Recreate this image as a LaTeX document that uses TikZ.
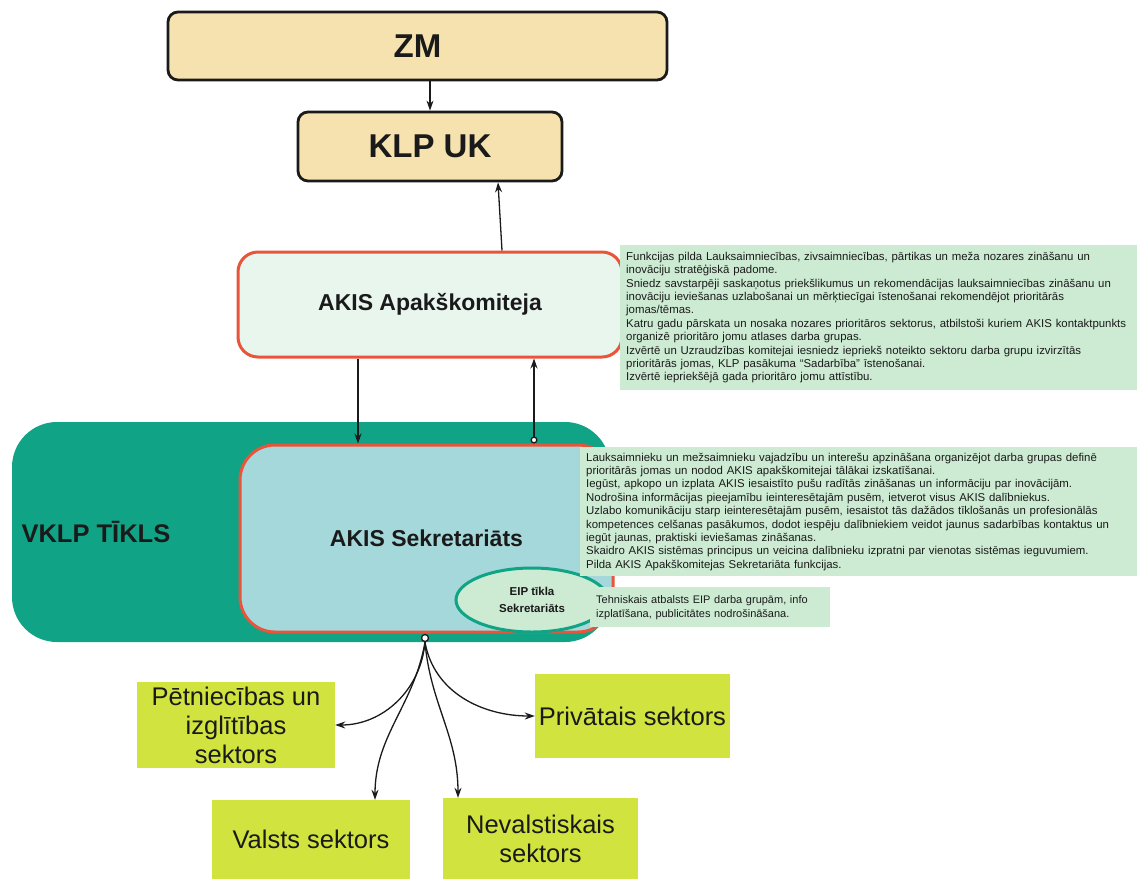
\documentclass[tikz,border=0pt]{standalone}
\usepackage{fontspec}
\setmainfont{Liberation Sans}
\usetikzlibrary{arrows.meta,positioning,shapes.geometric}

\definecolor{zmtan}{HTML}{F6E2AE}
\definecolor{boxline}{HTML}{1A1A1A}
\definecolor{akisred}{HTML}{E8553A}
\definecolor{apakfill}{HTML}{E9F6EE}
\definecolor{notegreen}{HTML}{CDEBD3}
\definecolor{vklpteal}{HTML}{10A385}
\definecolor{sekrfill}{HTML}{A4D8DA}
\definecolor{sectorlime}{HTML}{D0E33F}

\begin{document}
\begin{tikzpicture}[x=1pt,y=-1pt,
    >={Stealth[length=10pt,width=7pt]},
    tanbox/.style={draw=boxline, line width=2.8pt, fill=zmtan, rounded corners=10pt,
        text=boxline, font=\bfseries\fontsize{33}{38}\selectfont},
    akisbox/.style={draw=akisred, line width=3pt, text=boxline,
        font=\bfseries\fontsize{23}{27}\selectfont},
    notebox/.style={fill=notegreen, inner xsep=6pt, inner ysep=0pt, align=left,
        anchor=north west, text=boxline, font=\fontsize{11.4}{13.4}\selectfont},
    sectorbox/.style={fill=sectorlime, text=boxline, align=center,
        font=\fontsize{25.5}{29}\selectfont},
    link/.style={->, line width=1.3pt, draw=boxline},
    dotlink/.style={{Circle[open,length=7pt,fill=white]}->, line width=1.3pt, draw=boxline}
]
\useasboundingbox (0,0) rectangle (1137,879);

\node[tanbox, minimum width=499pt, minimum height=68pt] (zm) at (417.5,46) {ZM};
\node[tanbox, minimum width=264pt, minimum height=69pt] (klpuk) at (430,146.5) {KLP UK};

\node[fill=vklpteal, rounded corners=45pt, minimum width=598pt, minimum height=220pt] (vklp) at (311,532) {};
\node[anchor=west, text=boxline, font=\bfseries\fontsize{25.5}{30}\selectfont] (vklptxt) at (18,532) {VKLP TĪKLS};

\node[akisbox, fill=apakfill, rounded corners=20pt, minimum width=384pt, minimum height=105pt] (apak) at (430,304.5) {AKIS Apakškomiteja};
\node[akisbox, fill=sekrfill, rounded corners=35pt, minimum width=373pt, minimum height=187pt] (sekr) at (426.5,538.5) {AKIS Sekretariāts};
\node[ellipse, draw=vklpteal, line width=3pt, fill=notegreen, minimum width=152pt, minimum height=64pt,
    align=center, text=boxline, font=\bfseries\fontsize{11.5}{17}\selectfont] (eip) at (532,600) {EIP tīkla\\Sekretariāts};

\node[notebox, text width=530pt, minimum height=145pt] (apaknote) at (620,245) {Funkcijas pilda Lauksaimniecības, zivsaimniecības, pārtikas un meža nozares zināšanu un\\
inovāciju stratēģiskā padome.\\
Sniedz savstarpēji saskaņotus priekšlikumus un rekomendācijas lauksaimniecības zināšanu un\\
inovāciju ieviešanas uzlabošanai un mērķtiecīgai īstenošanai rekomendējot prioritārās\\
jomas/tēmas.\\
Katru gadu pārskata un nosaka nozares prioritāros sektorus, atbilstoši kuriem AKIS kontaktpunkts\\
organizē prioritāro jomu atlases darba grupas.\\
Izvērtē un Uzraudzības komitejai iesniedz iepriekš noteikto sektoru darba grupu izvirzītās\\
prioritārās jomas, KLP pasākuma “Sadarbība” īstenošanai.\\
Izvērtē iepriekšējā gada prioritāro jomu attīstību.};

\node[notebox, text width=570pt, minimum height=129pt] (sekrnote) at (580,447) {Lauksaimnieku un mežsaimnieku vajadzību un interešu apzināšana organizējot darba grupas definē\\
prioritārās jomas un nodod AKIS apakškomitejai tālākai izskatīšanai.\\
Iegūst, apkopo un izplata AKIS iesaistīto pušu radītās zināšanas un informāciju par inovācijām.\\
Nodrošina informācijas pieejamību ieinteresētajām pusēm, ietverot visus AKIS dalībniekus.\\
Uzlabo komunikāciju starp ieinteresētajām pusēm, iesaistot tās dažādos tīklošanās un profesionālās\\
kompetences celšanas pasākumos, dodot iespēju dalībniekiem veidot jaunus sadarbības kontaktus un\\
iegūt jaunas, praktiski ieviešamas zināšanas.\\
Skaidro AKIS sistēmas principus un veicina dalībnieku izpratni par vienotas sistēmas ieguvumiem.\\
Pilda AKIS Apakškomitejas Sekretariāta funkcijas.};

\node[notebox, text width=228pt, minimum height=40pt, font=\fontsize{11}{14}\selectfont] (eipnote) at (590,587) {Tehniskais atbalsts EIP darba grupām, info\\
izplatīšana, publicitātes nodrošināšana.};

\node[sectorbox, minimum width=198pt, minimum height=86pt] (petn) at (236,725) {Pētniecības un\\izglītības\\sektors};
\node[sectorbox, minimum width=195pt, minimum height=84pt] (priv) at (632.5,716) {Privātais sektors};
\node[sectorbox, minimum width=198pt, minimum height=79pt] (valsts) at (311,839.5) {Valsts sektors};
\node[sectorbox, minimum width=195pt, minimum height=81pt] (nevalst) at (540.5,838.5) {Nevalstiskais\\sektors};

\node[circle, draw=boxline, line width=1.3pt, fill=white, inner sep=0pt, minimum size=7pt] (hub) at (425,638) {};

\draw
([xshift=12.5pt]zm.south) edge[link] (klpuk.north)
([xshift=72pt]apak.north) edge[link] ([xshift=68pt]klpuk.south)
([xshift=-72pt]apak.south) edge[link] ([xshift=-68.5pt]sekr.north)
([xshift=107.5pt]sekr.north) edge[dotlink] ([xshift=104pt]apak.south)
(hub.south) edge[link, out=-95, in=0] (petn.east)
(hub.south) edge[link, out=-80, in=180] (priv.west)
(hub.south) edge[link, out=-100, in=90] ([xshift=64pt]valsts.north)
(hub.south) edge[link, out=-85, in=90] ([xshift=-82.5pt]nevalst.north);
\end{tikzpicture}
\end{document}
